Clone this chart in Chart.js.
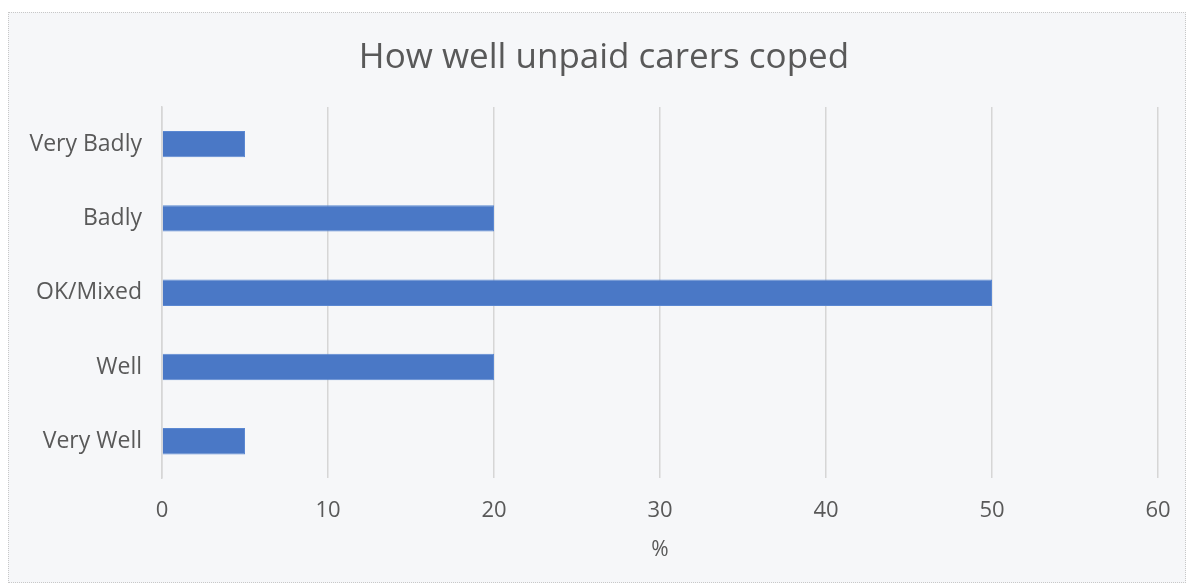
<!DOCTYPE html>
<html>
<head>
<meta charset="utf-8">
<script src="https://cdn.jsdelivr.net/npm/chart.js@4"></script>
<style>
  body { margin: 0; background: #ffffff; overflow: hidden; }
  .chart-box {
    position: absolute; left: 8px; top: 12px; width: 1178px; height: 571px;
    background: #f6f7f9; border: 1px dotted #c8c8c8; box-sizing: border-box;
    overflow: hidden;
  }
  canvas { display: block; }
</style>
</head>
<body>
<div class="chart-box"><canvas id="copingChart" width="1190" height="569"></canvas></div>
<script>
var categories = ['Very Badly', 'Badly', 'OK/Mixed', 'Well', 'Very Well'];
var percentValues = [5, 20, 50, 20, 5];
var xTicks = [0, 10, 20, 30, 40, 50, 60];

var textColor = '#595959';
var fontName = '"Open Sans", "Liberation Sans", sans-serif';

var ctx = document.getElementById('copingChart').getContext('2d');
var copingChart = new Chart(ctx, {
    type: 'bar',
    data: {
        labels: categories,
        datasets: [{
            data: percentValues,
            backgroundColor: '#4a78c6',
            borderColor: '#5b88d2',
            borderWidth: 1,
            barPercentage: 0.355,
            categoryPercentage: 1
        }]
    },
    options: {
        indexAxis: 'y',
        responsive: false,
        animation: false,
        layout: { padding: { top: 0, right: 0, bottom: 19, left: 0 } },
        scales: {
            x: {
                min: 0,
                max: 60,
                afterBuildTicks: function (scale) {
                    scale.ticks = xTicks.map(function (v) { return { value: v }; });
                },
                afterFit: function (scale) {
                    // leave room on the right so the title is centred like the original
                    scale.paddingLeft = 0;
                    scale.paddingRight = 41;
                },
                grid: { color: '#d6d6d6', lineWidth: 1.5, drawTicks: false },
                border: { display: false },
                ticks: { color: textColor, font: { family: fontName, size: 22 }, padding: 19 },
                title: { display: true, text: '%', color: textColor, font: { family: fontName, size: 21 }, padding: { top: -5, bottom: 0 } }
            },
            y: {
                grid: { display: false, drawTicks: false },
                border: { display: true, color: '#d6d6d6', width: 1.5 },
                ticks: { color: textColor, font: { family: fontName, size: 23 }, padding: 20 },
                afterFit: function (scale) { scale.width = 153; }
            }
        },
        plugins: {
            legend: { display: false },
            tooltip: { enabled: false },
            title: {
                display: true,
                text: 'How well unpaid carers coped',
                color: textColor,
                font: { family: fontName, size: 35, weight: 'normal' },
                padding: { top: 24, bottom: 28 }
            }
        }
    }
});
</script>
</body>
</html>
